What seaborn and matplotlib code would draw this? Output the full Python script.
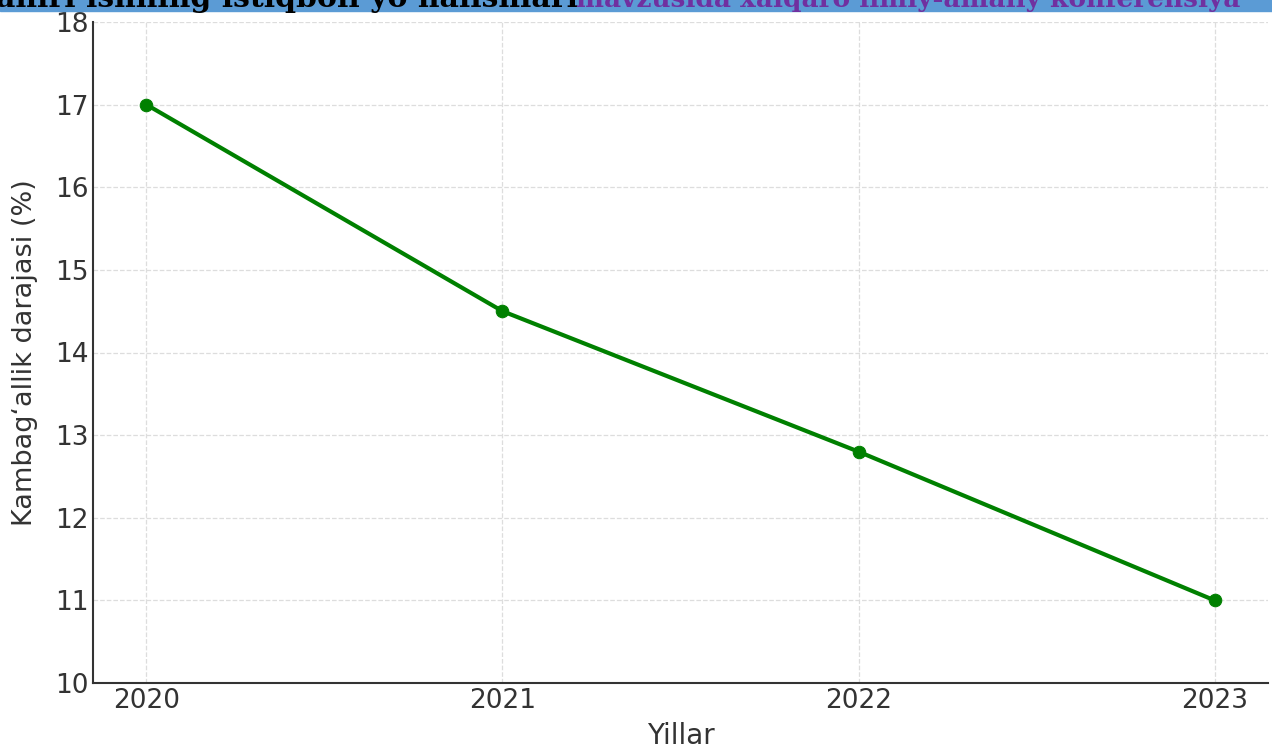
import pandas as pd
import matplotlib.pyplot as plt
import seaborn as sns

# =============================================================================
# Data
# =============================================================================

years = [2020, 2021, 2022, 2023]
poverty = [17.0, 14.5, 12.8, 11.0]
year_labels = ['2020', '2021', '2022', '2023']

df = pd.DataFrame({'Yillar': years, 'Kambag‘allik darajasi (%)': poverty})

# =============================================================================
# Plot
# =============================================================================

sns.set_style('white')
plt.rcParams['font.family'] = ['DejaVu Sans']

fig = plt.figure(figsize=(12.72, 7.48), dpi=100)
ax = fig.add_axes([93 / 1272, 1 - 683 / 748, (1268 - 93) / 1272, (683 - 22) / 748])

sns.lineplot(data=df, x='Yillar', y='Kambag‘allik darajasi (%)', ax=ax,
             color='green', linewidth=3, marker='o', markersize=9,
             markeredgecolor='green')

ax.set_ylim(10, 18)
ax.set_xticks(years)
ax.set_xticklabels(year_labels)
ax.grid(True, linestyle='--', color='#dddddd', linewidth=0.9)
ax.tick_params(axis='both', direction='in', labelsize=19, colors='#333333',
               length=6, width=1.2, labelcolor='#333333')
ax.set_xlabel('Yillar', fontsize=20, color='#333333', labelpad=6)
ax.set_ylabel('Kambag‘allik darajasi (%)', fontsize=19.5, color='#333333',
              labelpad=12)
for s in ['top', 'right']:
    ax.spines[s].set_visible(False)
for s in ['left', 'bottom']:
    ax.spines[s].set_color('#333333')
    ax.spines[s].set_linewidth(1.5)

# banner from the page the chart was cropped out of
fig.patches.append(plt.Rectangle((0, 1 - 11 / 748), 1, 11 / 748,
                                 transform=fig.transFigure, color='#5b9bd5',
                                 zorder=0))
fig.text(-0.003, 1 - 7 / 748, 'aniri ishning istiqboli yo‘nalishlari”',
         fontsize=21.5, fontweight='bold', family='DejaVu Serif', color='black',
         va='baseline', ha='left')
fig.text(1240 / 1272, 1 - 7 / 748, 'mavzusida xalqaro ilmiy-amaliy konferensiya',
         fontsize=19, fontweight='bold', family='DejaVu Serif',
         color='#7030a0', va='baseline', ha='right')

plt.savefig('out.png', dpi=100)
